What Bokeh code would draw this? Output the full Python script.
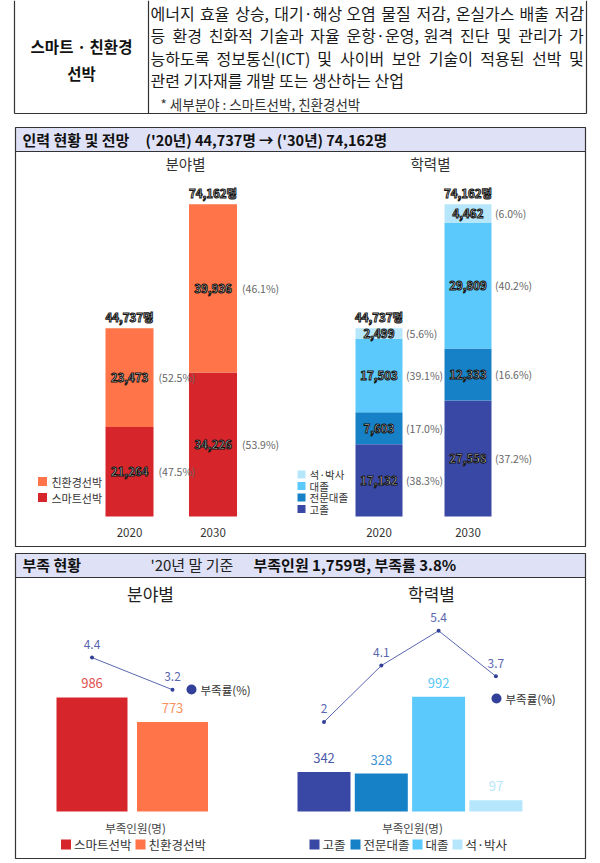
from bokeh.plotting import figure
from bokeh.models import Range1d
from bokeh.embed import file_html
from bokeh.resources import INLINE
from bokeh.core.properties import value
import numpy as np

FONT = "Noto Sans CJK KR"

# ---------------- data ----------------
years = ["2020", "2030"]
field_names = ["스마트선박", "친환경선박"]
field_values = {"스마트선박": [21264, 34226], "친환경선박": [23473, 39936]}
field_shares = {"스마트선박": [47.5, 53.9], "친환경선박": [52.5, 46.1]}
totals = [44737, 74162]

edu_names = ["고졸", "전문대졸", "대졸", "석·박사"]
edu_values = {"고졸": [17132, 27558], "전문대졸": [7603, 12333],
              "대졸": [17503, 29809], "석·박사": [2499, 4462]}
edu_shares = {"고졸": [38.3, 37.2], "전문대졸": [17.0, 16.6],
              "대졸": [39.1, 40.2], "석·박사": [5.6, 6.0]}

shortage_field = [986, 773]
shortage_field_rate = [4.4, 3.2]
shortage_edu = [342, 328, 992, 97]
shortage_edu_rate = [2, 4.1, 5.4, 3.7]

# ---------------- styles ----------------
field_colors = {"스마트선박": "#d7262b", "친환경선박": "#ff7448"}
field_text_colors = {"스마트선박": "#e0514f", "친환경선박": "#f8935f"}
edu_colors = {"고졸": "#3a48a5", "전문대졸": "#1681c6", "대졸": "#5bc9fb", "석·박사": "#b6e6fb"}
edu_text_colors = {"고졸": "#4d58a8", "전문대졸": "#3f93d2", "대졸": "#5bc9fb", "석·박사": "#b6e6fb"}
rate_color = "#5a66b0"
header_fill = "#dfe2f6"
border = "#333333"

W, H = 600, 860
p = figure(width=W, height=H, x_range=Range1d(0, W), y_range=Range1d(H, 0),
           output_backend="svg", toolbar_location=None, min_border=0,
           x_axis_location=None, y_axis_location=None, outline_line_color=None,
           background_fill_color="white", border_fill_color="white")
p.grid.visible = False


def x_range_for(x0_px, px_per_unit):
    return Range1d((0 - x0_px) / px_per_unit, (W - x0_px) / px_per_unit)


def y_range_for(zero_px, px_per_unit):
    return Range1d((zero_px - H) / px_per_unit, (zero_px - 0) / px_per_unit)


p.extra_x_ranges = {
    "tl": x_range_for(129, 83.5),
    "tr": x_range_for(378.5, 89),
    "bl": x_range_for(91.5, 80.5),
    "br": x_range_for(323.5, 57.3),
}
p.extra_y_ranges = {
    "ntop": y_range_for(516, 0.00421),
    "nbot": y_range_for(811, 0.1157),
    "rate": y_range_for(775, 26.8),
}


def txt(x, y, s, size, color="#222222", bold=False, align="left", baseline="middle"):
    p.text(x=[x], y=[y], text=[s], text_font=value(FONT), text_font_size=f"{size}px",
           text_color=color, text_font_style="bold" if bold else "normal",
           text_align=align, text_baseline=baseline)


def char_em(c):
    o = ord(c)
    if 0xAC00 <= o <= 0xD7A3:
        return 0.9
    if c == " ":
        return 0.224
    if c in ",.":
        return 0.25
    if c in "()":
        return 0.33
    if c == "·":
        return 0.5
    if c == "I":
        return 0.28
    if c.isupper():
        return 0.62
    return 0.55


def justified(line, x_left, x_right, y, size, color):
    words = line.split(" ")
    widths = [sum(char_em(c) for c in w) * size for w in words]
    gap = (x_right - x_left - sum(widths)) / (len(words) - 1)
    x = x_left
    for w, wd in zip(words, widths):
        txt(x, y, w, size, color)
        x += wd + gap


# ---------------- top definition table ----------------
p.segment(x0=[14, 148, 586, 14], y0=[0, 0, 0, 113], x1=[14, 148, 586, 586], y1=[113, 113, 113, 113],
          line_color=border, line_width=1.2)
txt(81, 45, "스마트 · 친환경", 15.5, "#111111", bold=True, align="center")
txt(81, 72, "선박", 15.5, "#111111", bold=True, align="center")
body = ["에너지 효율 상승, 대기·해상 오염 물질 저감, 온실가스 배출 저감",
        "등 환경 친화적 기술과 자율 운항·운영, 원격 진단 및 관리가 가",
        "능하도록 정보통신(ICT) 및 사이버 보안 기술이 적용된 선박 및",
        "관련 기자재를 개발 또는 생산하는 산업"]
for i, line in enumerate(body):
    yy = 12 + i * 22.5
    if i < len(body) - 1:
        justified(line, 150, 583, yy, 16, "#1a1a1a")
    else:
        txt(150, yy, line, 16, "#1a1a1a")
txt(160, 103, "*  세부분야 : 스마트선박, 친환경선박", 13.5, "#333333")

# ---------------- section 1 ----------------
p.quad(left=[15], right=[585], top=[127], bottom=[151], fill_color=header_fill, line_color=border, line_width=1.2)
p.quad(left=[15], right=[585], top=[151], bottom=[546], fill_color=None, line_color=border, line_width=1.2)
txt(22, 139, "인력 현황 및 전망", 15, "#111111", bold=True)
txt(145, 139, "('20년) 44,737명 → ('30년) 74,162명", 14.5, "#111111", bold=True)
txt(185, 163, "분야별", 14.5, "#333333", align="center")
txt(430, 163, "학력별", 14.5, "#333333", align="center")


def stacked(range_name, names, values, shares, colors, width, pct_offset):
    idx = np.arange(len(years))
    bottom = np.zeros(len(years))
    for name in names:
        vals = np.array(values[name], dtype=float)
        p.vbar(x=idx, bottom=bottom, top=bottom + vals, width=width, fill_color=colors[name],
               line_color=None, x_range_name=range_name, y_range_name="ntop")
        mid = bottom + vals / 2
        p.text(x=idx, y=mid, text=[f"{int(v):,}" for v in vals], text_font=value(FONT),
               text_font_size="11.5px", text_font_style="bold", text_color="white",
               text_outline_color="#111111", text_align="center", text_baseline="middle",
               x_range_name=range_name, y_range_name="ntop")
        p.text(x=idx, y=mid, text=[f"({s:.1f}%)" for s in shares[name]], text_font=value(FONT),
               text_font_size="10.5px", text_color="#666666", text_align="left", text_baseline="middle",
               x_offset=pct_offset, x_range_name=range_name, y_range_name="ntop")
        bottom = bottom + vals
    p.text(x=idx, y=totals, text=[f"{t:,}명" for t in totals], text_font=value(FONT),
           text_font_size="11.5px", text_font_style="bold", text_color="white",
           text_outline_color="#111111", text_align="center", text_baseline="middle", y_offset=-11,
           x_range_name=range_name, y_range_name="ntop")
    p.text(x=idx, y=np.zeros(len(years)), text=years, text_font=value(FONT),
           text_font_size="11.5px", text_color="#333333", text_align="center", text_baseline="middle",
           y_offset=16, x_range_name=range_name, y_range_name="ntop")


stacked("tl", field_names, field_values, field_shares, field_colors, 0.575, 29)
stacked("tr", edu_names, edu_values, edu_shares, edu_colors, 0.528, 27)

# legends of section 1
for name, yy in zip(field_names[::-1], [481, 497]):
    p.scatter(x=[42], y=[yy], marker="square", size=9, fill_color=field_colors[name], line_color=None)
    txt(51, yy, name, 11, "#333333")
for name, yy in zip(edu_names[::-1], [474, 485.5, 497, 508.5]):
    p.scatter(x=[301], y=[yy], marker="square", size=8, fill_color=edu_colors[name], line_color=None)
    txt(309, yy, name, 10.5, "#333333")

# ---------------- section 2 ----------------
p.quad(left=[15], right=[585], top=[553], bottom=[577], fill_color=header_fill, line_color=border, line_width=1.2)
p.quad(left=[15], right=[585], top=[577], bottom=[858], fill_color=None, line_color=border, line_width=1.2)
txt(22, 564, "부족 현황", 15, "#111111", bold=True)
txt(150, 564, "'20년  말  기준", 15, "#222222")
txt(253, 564, "부족인원 1,759명, 부족률 3.8%", 15, "#111111", bold=True)
txt(150, 593, "분야별", 17, "#222222", align="center")
txt(431, 593, "학력별", 17, "#222222", align="center")


def shortage(range_name, names, counts, rates, colors, text_colors, width):
    idx = np.arange(len(names))
    p.vbar(x=idx, top=counts, bottom=0, width=width, fill_color=[colors[n] for n in names],
           line_color=None, x_range_name=range_name, y_range_name="nbot")
    p.text(x=idx, y=counts, text=[str(c) for c in counts], text_font=value(FONT),
           text_font_size="13px", text_color=[text_colors[n] for n in names],
           text_align="center", text_baseline="middle", y_offset=-14,
           x_range_name=range_name, y_range_name="nbot")
    p.line(x=idx, y=rates, line_color=rate_color, line_width=1,
           x_range_name=range_name, y_range_name="rate")
    p.scatter(x=idx, y=rates, size=4, fill_color="#33409a", line_color=None,
              x_range_name=range_name, y_range_name="rate")
    p.text(x=idx, y=rates, text=[f"{r:g}" for r in rates], text_font=value(FONT),
           text_font_size="12px", text_color=rate_color, text_align="center",
           text_baseline="middle", y_offset=-13, x_range_name=range_name, y_range_name="rate")


shortage("bl", field_names, shortage_field, shortage_field_rate, field_colors, field_text_colors, 0.882)
shortage("br", edu_names, shortage_edu, shortage_edu_rate, edu_colors, edu_text_colors, 0.925)

# rate legend markers
p.scatter(x=[191], y=[689], size=10, fill_color="#33409a", line_color=None)
txt(200, 689, "부족률(%)", 11.5, "#333333")
p.scatter(x=[496], y=[698], size=10, fill_color="#33409a", line_color=None)
txt(505, 698, "부족률(%)", 11.5, "#333333")

txt(135, 827, "부족인원(명)", 11.5, "#444444", align="center")
txt(412, 827, "부족인원(명)", 11.5, "#444444", align="center")

for name, xx in zip(field_names, [65.5, 140]):
    p.scatter(x=[xx], y=[844], marker="square", size=10, fill_color=field_colors[name], line_color=None)
    txt(xx + 8, 844, name, 12.5, "#333333")
for name, xx in zip(edu_names, [314, 355, 417, 457]):
    p.scatter(x=[xx], y=[844], marker="square", size=10, fill_color=edu_colors[name], line_color=None)
    txt(xx + 8, 844, name, 12.5, "#333333")

open("out.html", "w").write(file_html(p, INLINE))
